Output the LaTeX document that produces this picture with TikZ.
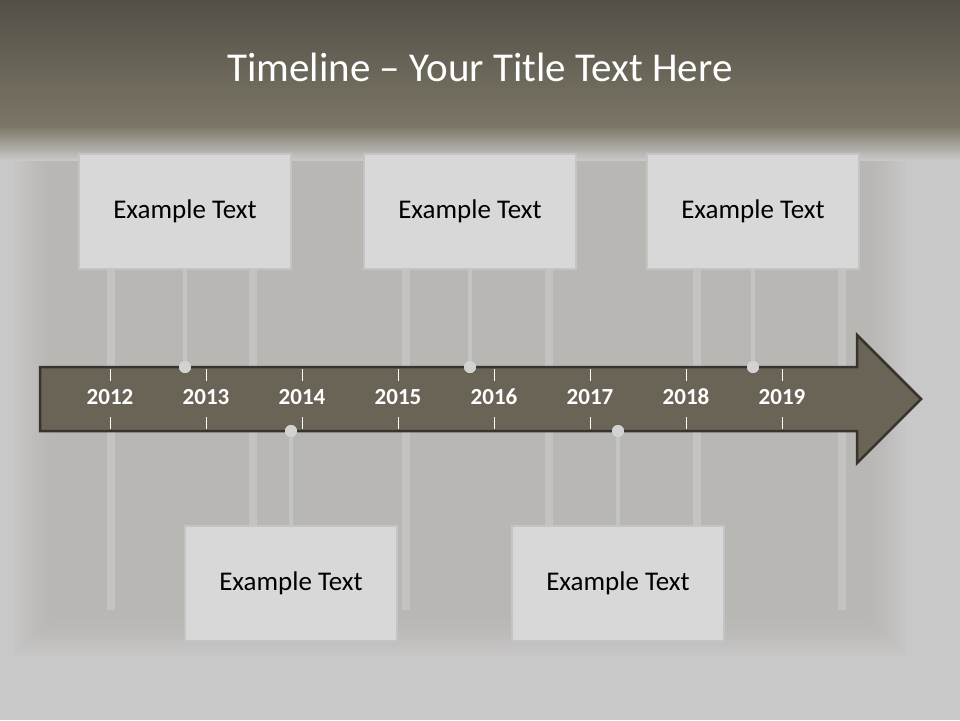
\documentclass[tikz,border=0pt]{standalone}
\usepackage{fontspec}
\setmainfont{Carlito}
\usetikzlibrary{positioning}
\definecolor{headtop}{HTML}{535047}
\definecolor{headbot}{HTML}{7B7666}
\definecolor{backgr}{HTML}{C9C8C8}
\definecolor{plank}{HTML}{B4B2AE}
\definecolor{gapcol}{HTML}{C4C3C2}
\definecolor{arrowfill}{HTML}{6A6457}
\definecolor{arrowline}{HTML}{37342E}
\definecolor{boxfill}{HTML}{D8D8D8}
\definecolor{boxline}{HTML}{C4C4C4}
\definecolor{stemcol}{HTML}{C4C4C4}
\definecolor{dotcol}{HTML}{D2D2D2}
\tikzset{
  infobox/.style={draw=boxline, line width=2pt, fill=boxfill, minimum width=212pt,
    minimum height=115pt, text=black, font=\fontsize{27}{32}\selectfont},
  yearlabel/.style={text=white, font=\bfseries\fontsize{23}{27}\selectfont},
  stem/.style={draw=stemcol, line width=4pt},
  stemdot/.style={circle, fill=dotcol, minimum size=12pt, inner sep=0pt},
}
\begin{document}
\begin{tikzpicture}[x=1pt, y=-1pt]
            \useasboundingbox (0,0) rectangle (960,720);
            % Background
            \fill[backgr] (0,0) rectangle (960,720);
            
            % Planks (soft edges from stacked layers)
            \foreach \k in {0,...,9} {
                \fill[plank, opacity=0.1] (15+4*\k,140) rectangle (905-4*\k,655-4*\k);
            }
            \foreach \px in {107,249,402,545,693,838} {
                \fill[gapcol] (\px,140) rectangle (\px+8,610);
            }
            
            % Header
            \shade[top color=headtop, bottom color=headbot] (0,0) rectangle (960,126);
            \shade[top color=headbot, bottom color=backgr] (0,126) rectangle (960,160);
            
            % Arrow
            \draw[arrowline, fill=arrowfill, line width=2.5pt, line join=miter]
                (40,367) -- (857,367) -- (857,335) -- (921,399) -- (857,463)
                -- (857,431) -- (40,431) -- cycle;
            
            % Ticks and years
            \foreach \yr [count=\i from 0] in {2012,2013,2014,2015,2016,2017,2018,2019} {
                \draw[white, line width=0.8pt] (110+96*\i,369) -- (110+96*\i,381);
                \draw[white, line width=0.8pt] (110+96*\i,417) -- (110+96*\i,429);
                \node[yearlabel] (y\yr) at (110+96*\i,397) {\yr};
            }
            
            % Boxes
            \node[infobox] (box1) at (185,211.5) {Example Text};
            \node[infobox] (box2) at (470,211.5) {Example Text};
            \node[infobox] (box3) at (753,211.5) {Example Text};
            \node[infobox] (box4) at (291,583) {Example Text};
            \node[infobox] (box5) at (618,583) {Example Text};
            
            % Dots on the arrow
            \node[stemdot] (dot1) at (185,367) {};
            \node[stemdot] (dot2) at (470,367) {};
            \node[stemdot] (dot3) at (753,367) {};
            \node[stemdot] (dot4) at (291,431) {};
            \node[stemdot] (dot5) at (618,431) {};
            
            % Stems
            \draw[stem] (box1.south) -- (dot1.center);
            \draw[stem] (box2.south) -- (dot2.center);
            \draw[stem] (box3.south) -- (dot3.center);
            \draw[stem] (box4.north) -- (dot4.center);
            \draw[stem] (box5.north) -- (dot5.center);
            \foreach \d in {dot1,dot2,dot3,dot4,dot5} {
                \fill[dotcol] (\d) circle (6);
            }
            
            % Title
            \node[text=white, font=\fontsize{41}{48}\selectfont] (title) at (480,67)
                {Timeline – Your Title Text Here};
            
        \end{tikzpicture}
\end{document}
